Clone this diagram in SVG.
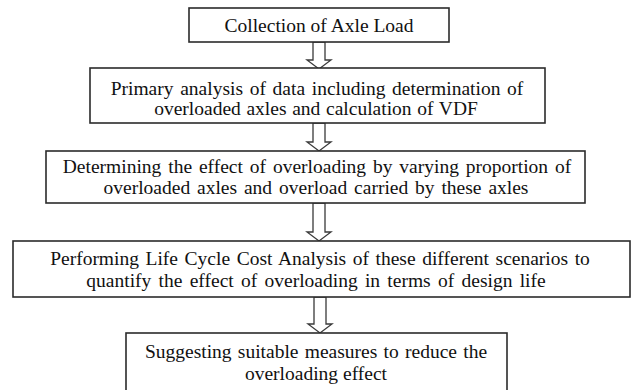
<svg xmlns="http://www.w3.org/2000/svg" width="631" height="390" viewBox="0 0 631 390">
  <style>
    .box { fill: #ffffff; stroke: #2b2b2b; stroke-width: 1.6; }
    .lbl { font-family: "Liberation Serif", "Times New Roman", serif; font-size: 19.5px; fill: #111111; text-anchor: middle; }
    .arrow { fill: #ffffff; stroke: #3a3a3a; stroke-width: 1.3; stroke-linejoin: miter; }
  </style>
  <rect width="631" height="390" fill="#ffffff"/>

  <!-- hollow block arrows between steps -->
  <g id="connectors">
    <polygon class="arrow" points="313,42 325,42 325,60 331,60 319,69 307,60 313,60"/>
    <polygon class="arrow" points="313,123 325,123 325,142 331,142 319,151 307,142 313,142"/>
    <polygon class="arrow" points="313,203 325,203 325,232 331,232 319,241 307,232 313,232"/>
    <polygon class="arrow" points="314,297 326,297 326,324 332,324 320,333 308,324 314,324"/>
  </g>

  <g id="step1">
    <rect class="box" x="189" y="8" width="260" height="34"/>
    <text class="lbl" x="319" y="32">Collection of Axle Load</text>
  </g>

  <g id="step2">
    <rect class="box" x="90" y="68" width="455" height="55"/>
    <text class="lbl" x="317" y="95" word-spacing="1.8">Primary analysis of data including determination of</text>
    <text class="lbl" x="316" y="115" word-spacing="0.8">overloaded axles and calculation of VDF</text>
  </g>

  <g id="step3">
    <rect class="box" x="46" y="151" width="539" height="52"/>
    <text class="lbl" x="317" y="173" word-spacing="2">Determining the effect of overloading by varying proportion of</text>
    <text class="lbl" x="316" y="194" word-spacing="2">overloaded axles and overload carried by these axles</text>
  </g>

  <g id="step4">
    <rect class="box" x="13" y="241" width="617" height="56"/>
    <text class="lbl" x="320" y="265" word-spacing="1.7">Performing Life Cycle Cost Analysis of these different scenarios to</text>
    <text class="lbl" x="316" y="287" word-spacing="2.4">quantify the effect of overloading in terms of design life</text>
  </g>

  <g id="step5">
    <rect class="box" x="126" y="333" width="381" height="70"/>
    <text class="lbl" x="316" y="358" word-spacing="1.4">Suggesting suitable measures to reduce the</text>
    <text class="lbl" x="316" y="380">overloading effect</text>
  </g>
</svg>
